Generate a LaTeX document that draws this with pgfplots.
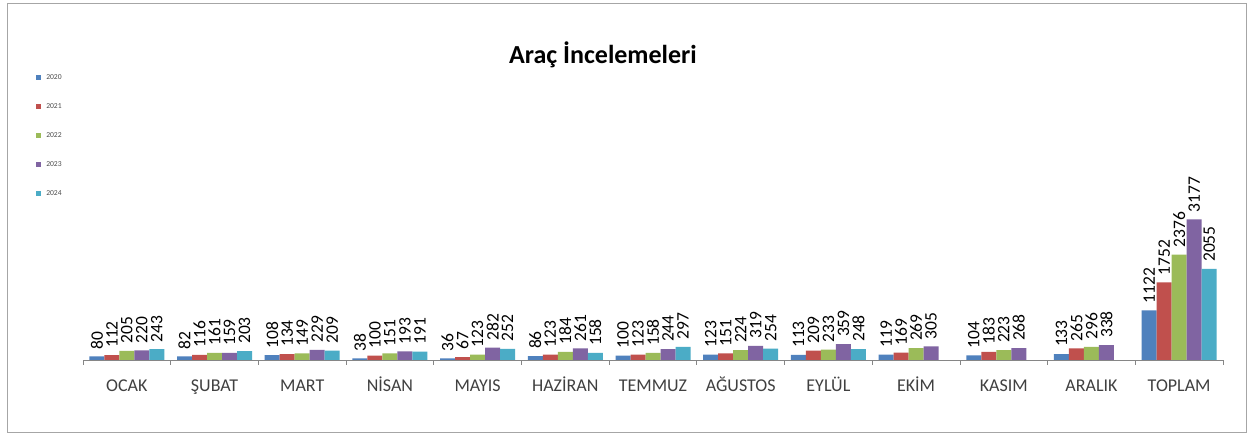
\documentclass[border=0pt]{standalone}
\usepackage{fontspec}
\setmainfont{Carlito}
\usepackage{pgfplots}
\pgfplotsset{compat=1.18}
\definecolor{cA}{HTML}{4F81BD}
\definecolor{cB}{HTML}{C0504D}
\definecolor{cC}{HTML}{9BBB59}
\definecolor{cD}{HTML}{8064A2}
\definecolor{cE}{HTML}{4BACC6}
\definecolor{axgray}{HTML}{868686}
\begin{document}
\begin{tikzpicture}[x=1pt,y=1pt]
\fill[white] (0,0) rectangle (1253,436);
\draw[gray!70, line width=0.8pt] (7,4) rectangle (1246,433);
\node[font=\fontsize{26}{30}\selectfont\bfseries] at (603,381) {Araç İncelemeleri};
\begin{axis}[
  at={(83pt,76pt)}, anchor=south west,
  scale only axis, width=1140pt, height=300pt,
  xmin=-0.5, xmax=12.5, ymin=0, ymax=6772,
  enlargelimits=false, clip=false,
  ybar=0pt, bar width=15pt,
  axis y line=none, axis x line*=bottom,
  x axis line style={axgray, line width=0.8pt},
  xtick={0,...,12},
  xticklabels={OCAK,ŞUBAT,MART,NİSAN,MAYIS,HAZİRAN,TEMMUZ,AĞUSTOS,EYLÜL,EKİM,KASIM,ARALIK,TOPLAM},
  major tick length=0pt,
  minor xtick={-0.5,0.5,...,12.5},
  minor tick length=5pt, tick align=outside,
  minor tick style={axgray, line width=0.8pt},
  xticklabel style={font=\fontsize{18}{20}\selectfont, anchor=base, yshift=-32pt, text=black!75},
  ytick=\empty,
  nodes near coords,
  every node near coord/.append style={rotate=90, anchor=west, font=\fontsize{17.5}{20}\selectfont, text=black, inner xsep=7pt, inner ysep=0.5pt},
  /pgf/number format/assume math mode=true,
  /pgf/number format/1000 sep={},
  legend style={at={(-0.0438,0.9667)}, anchor=north west, draw=none, fill=none,
    font=\fontsize{7.6}{8}\selectfont, row sep=18.7pt, column sep=3pt, text=black!70},
  legend cell align=left,
  legend image code/.code={\fill[#1, draw=none] (0pt,-2.5pt) rectangle (5pt,2.5pt);},
]
\addplot[fill=cA, draw=none] coordinates {(0,80) (1,82) (2,108) (3,38) (4,36) (5,86) (6,100) (7,123) (8,113) (9,119) (10,104) (11,133) (12,1122)};
\addplot[fill=cB, draw=none] coordinates {(0,112) (1,116) (2,134) (3,100) (4,67) (5,123) (6,123) (7,151) (8,209) (9,169) (10,183) (11,265) (12,1752)};
\addplot[fill=cC, draw=none] coordinates {(0,205) (1,161) (2,149) (3,151) (4,123) (5,184) (6,158) (7,224) (8,233) (9,269) (10,223) (11,296) (12,2376)};
\addplot[fill=cD, draw=none] coordinates {(0,220) (1,159) (2,229) (3,193) (4,282) (5,261) (6,244) (7,319) (8,359) (9,305) (10,268) (11,338) (12,3177)};
\addplot[fill=cE, draw=none] coordinates {(0,243) (1,203) (2,209) (3,191) (4,252) (5,158) (6,297) (7,254) (8,248) (12,2055)};
\legend{2020,2021,2022,2023,2024}
\end{axis}
\end{tikzpicture}
\end{document}
